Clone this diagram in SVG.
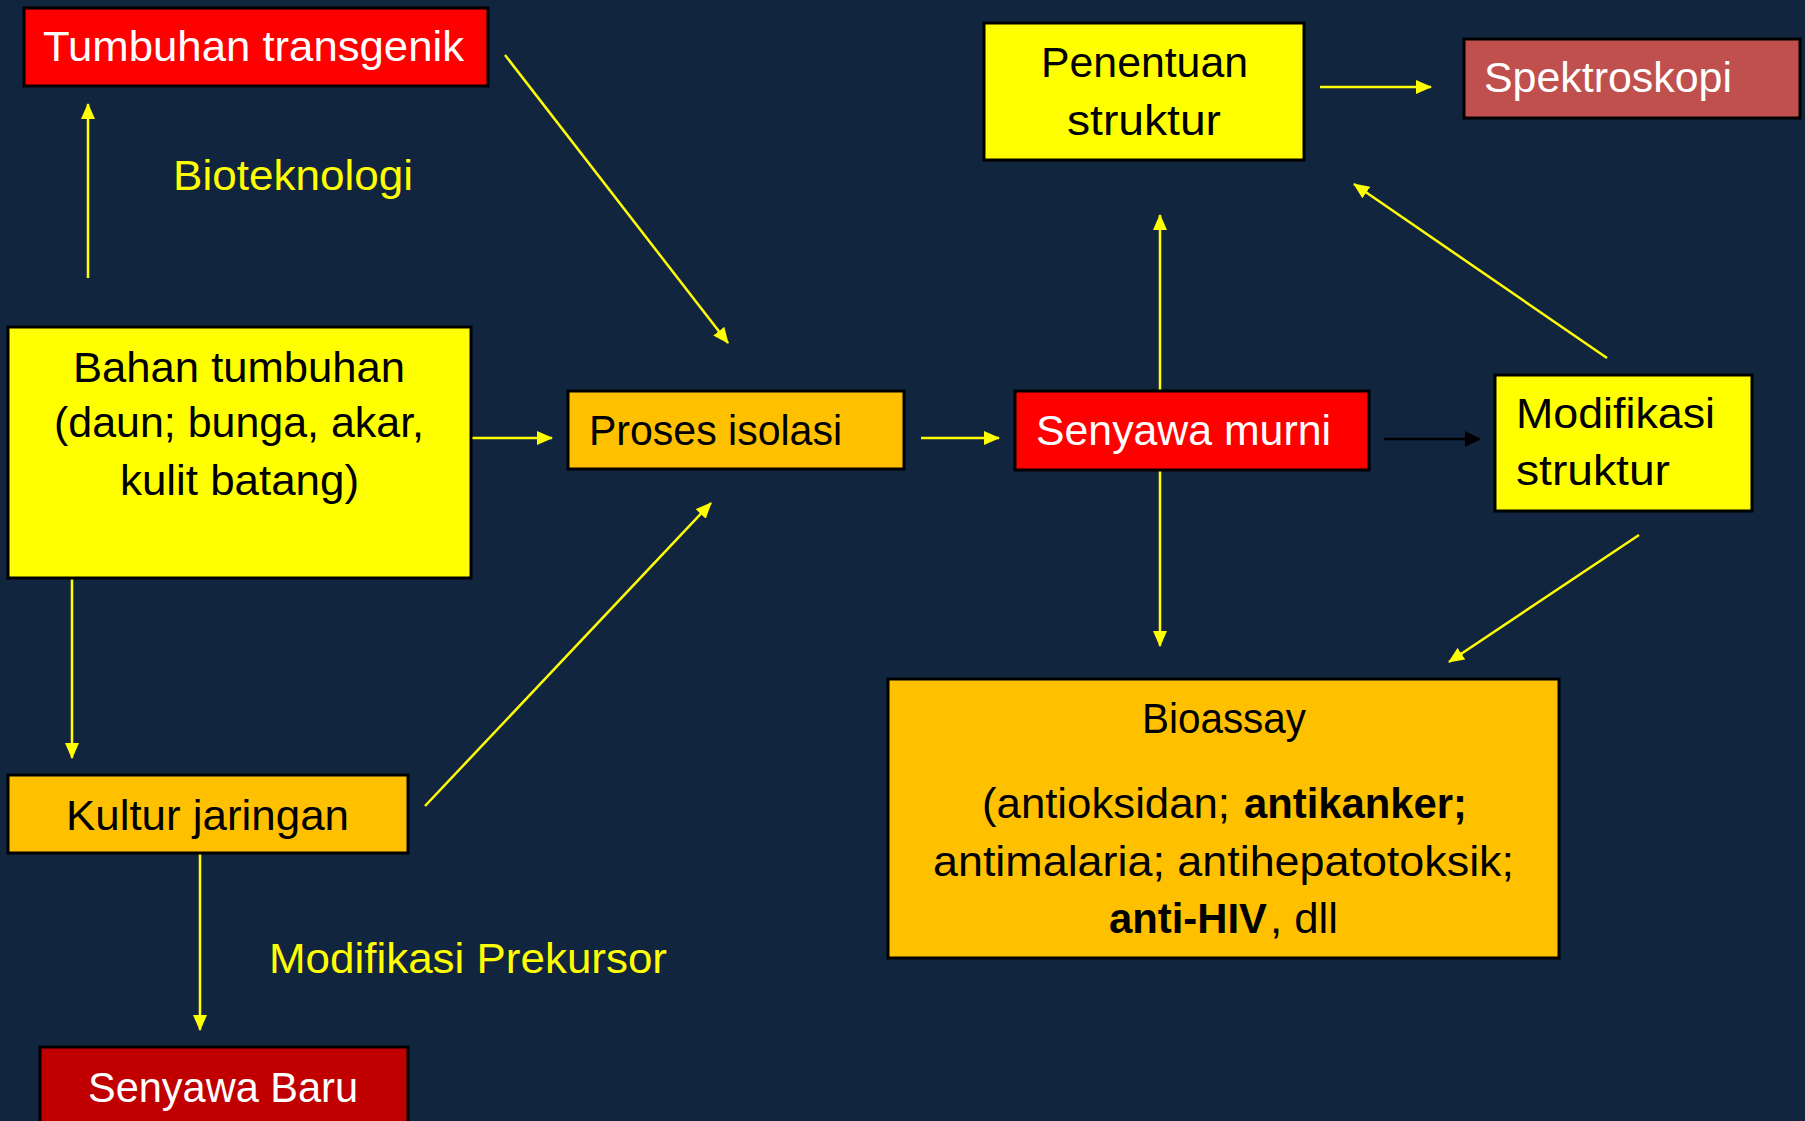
<svg xmlns="http://www.w3.org/2000/svg" width="1805" height="1121" viewBox="0 0 1805 1121">
<style>
.box{stroke:#000;stroke-width:3}
.t{font-family:"Liberation Sans",Arial,sans-serif;font-size:43px}
.w{fill:#fff}.k{fill:#000}.y{fill:#ffff00}
.b{font-weight:bold}
.c{fill:none;stroke:#ffff00;stroke-width:2.5}
.cb{fill:none;stroke:#000;stroke-width:2.5}
</style>
<defs>
<marker id="ay" markerUnits="userSpaceOnUse" markerWidth="16" markerHeight="14" refX="15" refY="7" orient="auto"><path d="M0,0 L16,7 L0,14 z" fill="#ffff00"/></marker>
<marker id="ak" markerUnits="userSpaceOnUse" markerWidth="16" markerHeight="16" refX="15" refY="8" orient="auto"><path d="M0,0 L16,8 L0,16 z" fill="#000"/></marker>
</defs>
<rect width="1805" height="1121" fill="#11253f"/>

<g id="connectors">
<line class="c" x1="88" y1="278" x2="88" y2="104" marker-end="url(#ay)"/>
<line class="c" x1="505" y1="55" x2="728" y2="343" marker-end="url(#ay)"/>
<line class="c" x1="471" y1="438" x2="552" y2="438" marker-end="url(#ay)"/>
<line class="c" x1="72" y1="578" x2="72" y2="758" marker-end="url(#ay)"/>
<line class="c" x1="425" y1="806" x2="711" y2="503" marker-end="url(#ay)"/>
<line class="c" x1="200" y1="853" x2="200" y2="1030" marker-end="url(#ay)"/>
<line class="c" x1="921" y1="438" x2="999" y2="438" marker-end="url(#ay)"/>
<line class="c" x1="1160" y1="391" x2="1160" y2="215" marker-end="url(#ay)"/>
<line class="c" x1="1160" y1="470" x2="1160" y2="646" marker-end="url(#ay)"/>
<line class="cb" x1="1384" y1="439" x2="1480" y2="439" marker-end="url(#ak)"/>
<line class="c" x1="1607" y1="358" x2="1354" y2="184" marker-end="url(#ay)"/>
<line class="c" x1="1639" y1="535" x2="1449" y2="662" marker-end="url(#ay)"/>
<line class="c" x1="1320" y1="87" x2="1431" y2="87" marker-end="url(#ay)"/>
</g>

<g id="label-bioteknologi"><text class="t y" x="173" y="190" textLength="240" lengthAdjust="spacingAndGlyphs">Bioteknologi</text></g>
<g id="label-modifikasi-prekursor"><text class="t y" x="269" y="973" textLength="398" lengthAdjust="spacingAndGlyphs">Modifikasi Prekursor</text></g>

<g id="tumbuhan-transgenik">
<rect class="box" x="24" y="8" width="464" height="78" fill="#ff0000"/>
<text class="t w" x="43" y="61" textLength="421" lengthAdjust="spacingAndGlyphs">Tumbuhan transgenik</text>
</g>

<g id="bahan-tumbuhan">
<rect class="box" x="8" y="327" width="463" height="251" fill="#ffff00"/>
<text class="t k" x="73" y="382" textLength="332" lengthAdjust="spacingAndGlyphs">Bahan tumbuhan</text>
<text class="t k" x="54" y="437" textLength="370" lengthAdjust="spacingAndGlyphs">(daun; bunga, akar,</text>
<text class="t k" x="120" y="495" textLength="239" lengthAdjust="spacingAndGlyphs">kulit batang)</text>
</g>

<g id="proses-isolasi">
<rect class="box" x="568" y="391" width="336" height="78" fill="#ffc000"/>
<text class="t k" x="589" y="445" textLength="253" lengthAdjust="spacingAndGlyphs">Proses isolasi</text>
</g>

<g id="kultur-jaringan">
<rect class="box" x="8" y="775" width="400" height="78" fill="#ffc000"/>
<text class="t k" x="66" y="830" textLength="283" lengthAdjust="spacingAndGlyphs">Kultur jaringan</text>
</g>

<g id="senyawa-baru">
<rect class="box" x="40" y="1047" width="368" height="90" fill="#c00000"/>
<text class="t w" x="88" y="1102" textLength="270" lengthAdjust="spacingAndGlyphs">Senyawa Baru</text>
</g>

<g id="senyawa-murni">
<rect class="box" x="1015" y="391" width="354" height="79" fill="#ff0000"/>
<text class="t w" x="1036" y="445" textLength="295" lengthAdjust="spacingAndGlyphs">Senyawa murni</text>
</g>

<g id="penentuan-struktur">
<rect class="box" x="984" y="23" width="320" height="137" fill="#ffff00"/>
<text class="t k" x="1041" y="77" textLength="207" lengthAdjust="spacingAndGlyphs">Penentuan</text>
<text class="t k" x="1067" y="135" textLength="154" lengthAdjust="spacingAndGlyphs">struktur</text>
</g>

<g id="spektroskopi">
<rect class="box" x="1464" y="39" width="336" height="79" fill="#c0504d"/>
<text class="t w" x="1484" y="92" textLength="248" lengthAdjust="spacingAndGlyphs">Spektroskopi</text>
</g>

<g id="modifikasi-struktur">
<rect class="box" x="1495" y="375" width="257" height="136" fill="#ffff00"/>
<text class="t k" x="1516" y="428" textLength="199" lengthAdjust="spacingAndGlyphs">Modifikasi</text>
<text class="t k" x="1516" y="485" textLength="154" lengthAdjust="spacingAndGlyphs">struktur</text>
</g>

<g id="bioassay">
<rect class="box" x="888" y="679" width="671" height="279" fill="#ffc000"/>
<text class="t k" x="1142" y="733" textLength="164" lengthAdjust="spacingAndGlyphs">Bioassay</text>
<text class="t k" x="982" y="818" textLength="248" lengthAdjust="spacingAndGlyphs">(antioksidan;</text>
<text class="t k b" x="1244" y="818" textLength="223" lengthAdjust="spacingAndGlyphs">antikanker;</text>
<text class="t k" x="933" y="876" textLength="581" lengthAdjust="spacingAndGlyphs">antimalaria; antihepatotoksik;</text>
<text class="t k b" x="1109" y="933" textLength="158" lengthAdjust="spacingAndGlyphs">anti-HIV</text>
<text class="t k" x="1270" y="933" textLength="68" lengthAdjust="spacingAndGlyphs">, dll</text>
</g>
</svg>
